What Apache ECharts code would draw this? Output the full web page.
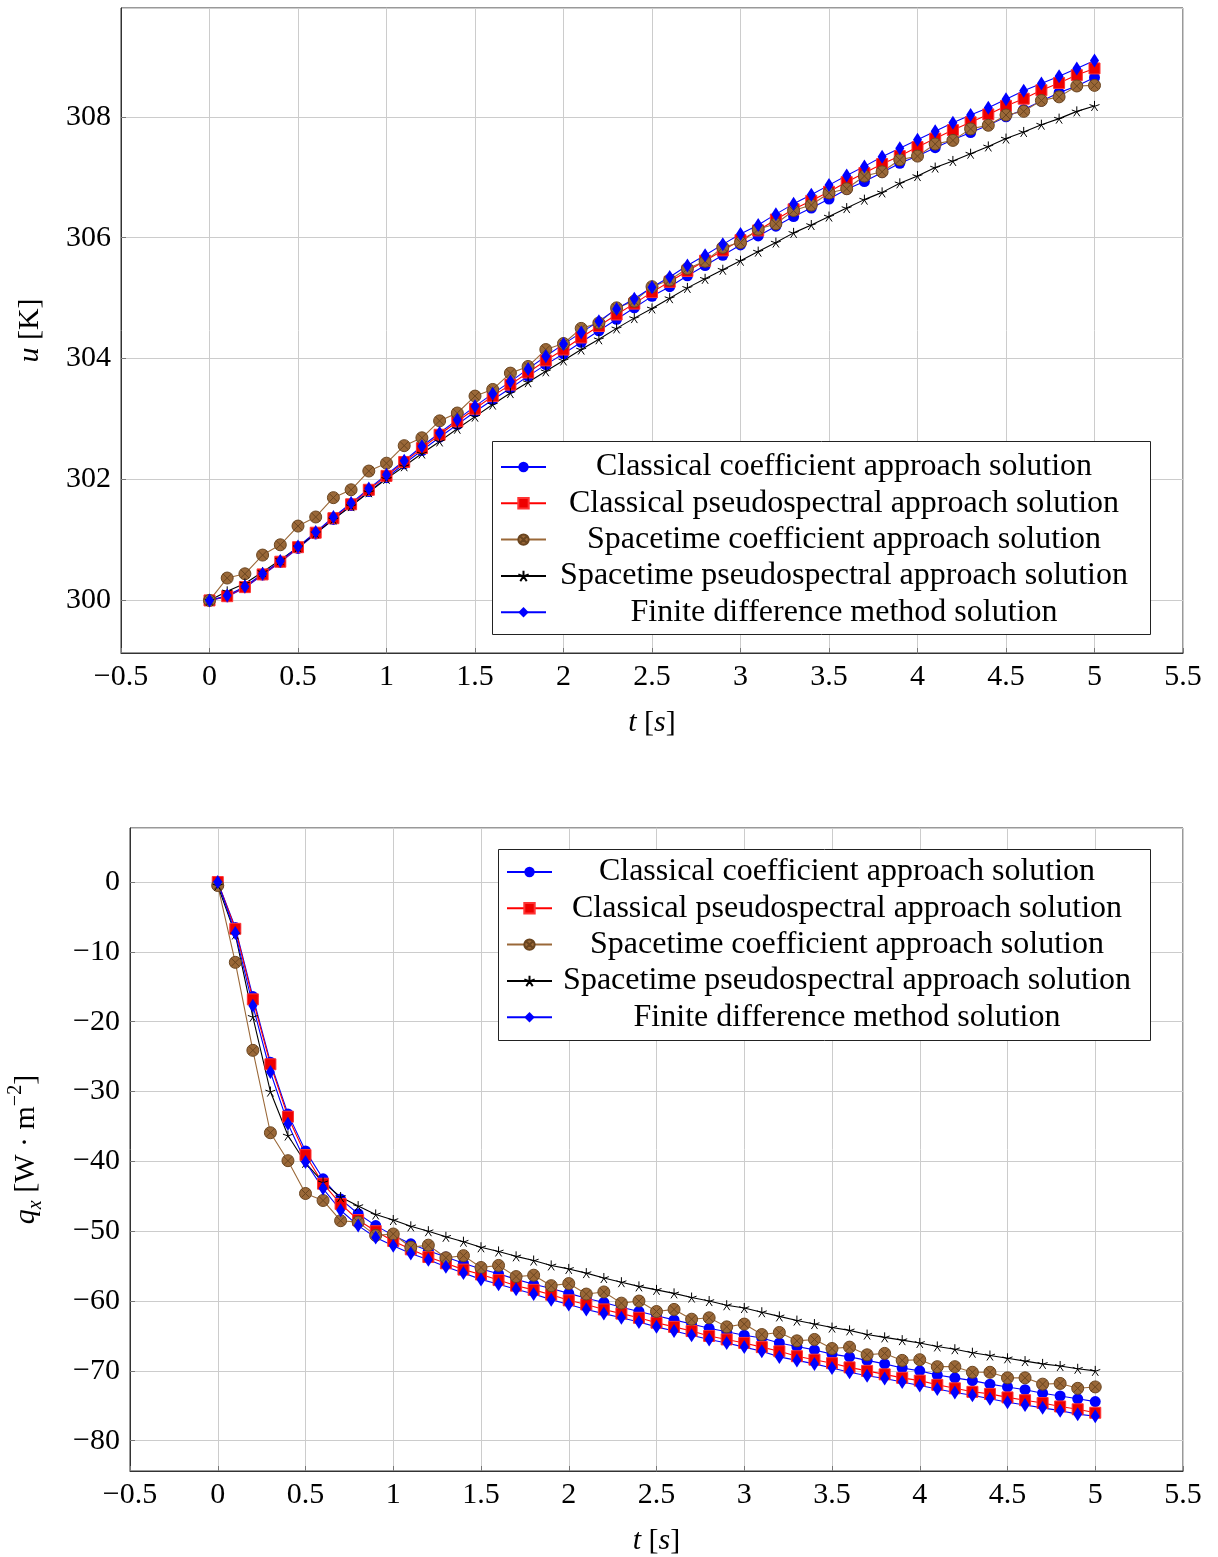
<!DOCTYPE html>
<html>
<head>
<meta charset="utf-8">
<script src="https://cdn.jsdelivr.net/npm/echarts@6/dist/echarts.min.js"></script>
<style>
html,body{margin:0;padding:0;background:#fff;}
#c1{position:absolute;left:0;top:0;width:1218px;height:780px;}
#c2{position:absolute;left:0;top:780px;width:1218px;height:777px;}
</style>
</head>
<body>
<div id="c1"></div>
<div id="c2"></div>
<script>
// time samples
const tValues = [0,0.1,0.2,0.3,0.4,0.5,0.6,0.7,0.8,0.9,1.0,1.1,1.2,1.3,1.4,1.5,1.6,1.7,1.8,1.9,2.0,2.1,2.2,2.3,2.4,2.5,2.6,2.7,2.8,2.9,3.0,3.1,3.2,3.3,3.4,3.5,3.6,3.7,3.8,3.9,4.0,4.1,4.2,4.3,4.4,4.5,4.6,4.7,4.8,4.9,5.0];

const seriesNames = [
  'Classical coefficient approach solution',
  'Classical pseudospectral approach solution',
  'Spacetime coefficient approach solution',
  'Spacetime pseudospectral approach solution',
  'Finite difference method solution'
];

// Top chart: temperature u [K]
const uClassicalCoef = [300,300.06,300.21,300.42,300.63,300.86,301.10,301.34,301.57,301.80,302.03,302.26,302.48,302.70,302.91,303.12,303.32,303.51,303.71,303.90,304.08,304.27,304.46,304.65,304.84,305.03,305.19,305.37,305.54,305.71,305.88,306.03,306.19,306.35,306.49,306.64,306.80,306.93,307.08,307.23,307.35,307.49,307.62,307.74,307.86,308.00,308.12,308.26,308.40,308.51,308.65];
const uClassicalPseudo = [300,300.07,300.22,300.43,300.64,300.88,301.12,301.36,301.59,301.83,302.06,302.29,302.52,302.74,302.96,303.17,303.38,303.57,303.77,303.97,304.15,304.35,304.54,304.73,304.91,305.10,305.27,305.45,305.62,305.79,305.96,306.12,306.30,306.47,306.61,306.76,306.92,307.07,307.22,307.35,307.50,307.64,307.78,307.91,308.04,308.18,308.30,308.44,308.56,308.69,308.80];
const uSpacetimeCoef = [300,300.37,300.44,300.75,300.92,301.23,301.38,301.70,301.83,302.14,302.27,302.56,302.69,302.97,303.10,303.38,303.49,303.76,303.87,304.15,304.25,304.50,304.59,304.84,304.95,305.19,305.30,305.49,305.61,305.84,305.92,306.14,306.23,306.45,306.54,306.74,306.81,307.02,307.09,307.29,307.35,307.55,307.61,307.80,307.86,308.03,308.09,308.27,308.33,308.51,308.52];
const uSpacetimePseudo = [300,300.15,300.28,300.47,300.67,300.88,301.11,301.34,301.56,301.79,302.01,302.22,302.43,302.63,302.84,303.04,303.24,303.43,303.61,303.79,303.97,304.15,304.32,304.50,304.67,304.83,305.00,305.17,305.32,305.47,305.62,305.77,305.92,306.08,306.21,306.35,306.49,306.63,306.75,306.90,307.02,307.16,307.27,307.39,307.51,307.64,307.75,307.87,307.97,308.09,308.18];
const uFiniteDiff = [300,300.08,300.23,300.44,300.65,300.89,301.13,301.38,301.61,301.85,302.08,302.31,302.55,302.77,302.99,303.21,303.42,303.62,303.83,304.04,304.24,304.43,304.62,304.82,304.99,305.18,305.35,305.54,305.71,305.89,306.06,306.21,306.39,306.56,306.71,306.87,307.03,307.18,307.34,307.48,307.62,307.76,307.90,308.03,308.15,308.29,308.43,308.55,308.67,308.80,308.93];

// Bottom chart: heat flux q_x [W m^-2]
const qClassicalCoef = [0,-6.5,-16.4,-25.8,-33.2,-38.5,-42.5,-45.4,-47.5,-49.2,-50.6,-51.8,-52.8,-53.7,-54.6,-55.4,-56.1,-56.9,-57.6,-58.2,-58.9,-59.6,-60.2,-60.9,-61.5,-62.1,-62.7,-63.3,-63.9,-64.4,-64.9,-65.3,-66.0,-66.5,-67.0,-67.6,-68.0,-68.5,-69.0,-69.6,-70.0,-70.6,-71.0,-71.4,-71.9,-72.3,-72.7,-73.2,-73.6,-74.0,-74.4];
const qClassicalPseudo = [0,-6.7,-16.8,-26.1,-33.6,-39.1,-43.2,-46.1,-48.4,-50.0,-51.4,-52.6,-53.7,-54.6,-55.5,-56.2,-57.0,-57.8,-58.4,-59.1,-59.9,-60.5,-61.2,-61.8,-62.4,-63.1,-63.7,-64.3,-65.0,-65.5,-66.0,-66.6,-67.2,-67.9,-68.4,-68.9,-69.5,-70.0,-70.5,-71.0,-71.4,-72.0,-72.5,-73.0,-73.3,-73.8,-74.2,-74.6,-75.1,-75.5,-76.0];
const qSpacetimeCoef = [-0.5,-11.5,-24.1,-35.9,-39.9,-44.6,-45.6,-48.5,-48.7,-50.6,-50.4,-52.3,-52.0,-53.8,-53.5,-55.2,-54.9,-56.5,-56.3,-57.8,-57.5,-59.0,-58.7,-60.3,-60.0,-61.5,-61.2,-62.6,-62.4,-63.7,-63.3,-64.8,-64.5,-65.7,-65.5,-66.8,-66.6,-67.7,-67.5,-68.5,-68.4,-69.4,-69.4,-70.2,-70.2,-71.0,-71.0,-71.9,-71.8,-72.5,-72.3];
const qSpacetimePseudo = [-0.5,-7.5,-19.3,-30.0,-36.3,-40.2,-43.0,-45.1,-46.4,-47.6,-48.4,-49.3,-50.0,-50.8,-51.5,-52.3,-52.9,-53.6,-54.2,-54.9,-55.4,-56.0,-56.7,-57.3,-57.9,-58.4,-58.9,-59.5,-60.0,-60.6,-61.0,-61.6,-62.2,-62.8,-63.3,-63.8,-64.2,-64.8,-65.2,-65.6,-66.0,-66.5,-66.9,-67.4,-67.8,-68.2,-68.6,-69.0,-69.3,-69.7,-70.0];
const qFiniteDiff = [0,-7.3,-17.7,-27.2,-34.6,-40.1,-43.9,-47.0,-49.2,-50.9,-52.1,-53.2,-54.1,-55.1,-56.0,-56.9,-57.6,-58.3,-59.0,-59.8,-60.5,-61.2,-61.8,-62.4,-63.0,-63.7,-64.3,-64.9,-65.5,-66.0,-66.6,-67.2,-68.0,-68.5,-69.0,-69.6,-70.2,-70.7,-71.1,-71.6,-72.1,-72.6,-73.1,-73.5,-74.0,-74.5,-74.9,-75.3,-75.7,-76.2,-76.5];

const FONT = '"Liberation Serif", "Times New Roman", serif';
const BROWN = '#9a6838';
const STAR = 'path://M50 0 L50 52 M97.5 34.5 L50 52 M79.4 95.5 L50 52 M20.6 95.5 L50 52 M2.5 34.5 L50 52';
const OTIMES = 'path://M0 10 A10 10 0 1 1 20 10 A10 10 0 1 1 0 10 Z M2.93 2.93 L17.07 17.07 M17.07 2.93 L2.93 17.07';

const styles = [
  {color:'#0000ff', symbol:'circle', size:11, border:'#0000ff', bw:0},
  {color:'#ee0000', symbol:'rect', size:11, border:'#ff3333', bw:1},
  {color:BROWN, symbol:OTIMES, size:12, border:'#6a4520', bw:1},
  {color:'#000000', symbol:STAR, size:10, border:'#000000', bw:1},
  {color:'#0000ff', symbol:'diamond', size:[9,14], border:'#0000ff', bw:0}
];

function pairs(arr){ return tValues.map((t,i)=>[t, arr[i]]); }
function minus(v){ return String(v).replace('-', '\u2212'); }

function makeSeries(arrays){
  return arrays.map((arr, k) => {
    const s = styles[k];
    return {
      name: seriesNames[k], type:'line', data: pairs(arr),
      symbol: s.symbol, symbolSize: s.size, showSymbol:true,
      lineStyle:{color: k===1 ? '#ff0000' : s.color, width:1.1},
      itemStyle:{color: s.color, borderColor: s.border, borderWidth: s.bw},
      emphasis:{disabled:true}, animation:false
    };
  });
}

function baseOption(grid, yMin, yMax, splitNum, yName, yNameGap, box, legendLeft, legendTop, legendTextWidth, arrays){
  return {
    animation:false,
    grid: Object.assign({show:true, borderColor:'#333', borderWidth:1, backgroundColor:'transparent', containLabel:false, outerBoundsMode:'none'}, grid),
    graphic: [{
      type:'rect', z: 3, silent:true,
      shape:{x: box[0] + 0.5, y: box[1] + 0.5, width: box[2], height: box[3]},
      style:{fill:'#fff', stroke:'#222', lineWidth:1}
    }],
    legend: {
      left: legendLeft, top: legendTop, orient:'vertical', z: 5,
      backgroundColor:'transparent', borderWidth:0,
      padding:[7,8,6,8], itemGap:4.3, itemWidth:45, itemHeight:13,
      selectedMode:false,
      formatter: n => '{t|' + n + '}',
      textStyle:{ rich:{ t:{ width: legendTextWidth, align:'center', fontFamily: FONT, fontSize:32, color:'#000'} } },
      data: seriesNames
    },
    xAxis: {
      type:'value', min:-0.5, max:5.5, interval:0.5,
      name:'{i|t} [{i|s}]', nameLocation:'middle', nameGap:55,
      nameTextStyle:{fontFamily:FONT, fontSize:30, color:'#000', rich:{i:{fontStyle:'italic', fontFamily:FONT, fontSize:30}}},
      axisLine:{show:true, onZero:false, lineStyle:{color:'#333'}},
      axisTick:{show:true, inside:true, length:5, lineStyle:{color:'#777'}},
      axisLabel:{fontFamily:FONT, fontSize:30, color:'#000', margin:9, formatter: v => minus(v)},
      splitLine:{show:true, lineStyle:{color:'#cccccc', width:1}}
    },
    yAxis: {
      type:'value', min:yMin, max:yMax, splitNumber:splitNum,
      name: yName, nameLocation:'middle', nameGap:yNameGap, nameRotate:90,
      nameTextStyle:{fontFamily:FONT, fontSize:30, color:'#000',
        rich:{ i:{fontStyle:'italic', fontFamily:FONT, fontSize:30},
               sub:{fontStyle:'italic', fontFamily:FONT, fontSize:20, verticalAlign:'bottom', lineHeight:40},
               sup:{fontFamily:FONT, fontSize:20, verticalAlign:'top', lineHeight:40} }},
      axisLine:{show:true, onZero:false, lineStyle:{color:'#333'}},
      axisTick:{show:true, inside:true, length:5, lineStyle:{color:'#777'}},
      axisLabel:{fontFamily:FONT, fontSize:30, color:'#000', margin:10, showMinLabel:false, showMaxLabel:false, formatter: v => minus(v)},
      splitLine:{show:true, lineStyle:{color:'#cccccc', width:1}}
    },
    series: makeSeries(arrays)
  };
}

const c1 = echarts.init(document.getElementById('c1'), null, {renderer:'canvas'});
c1.setOption(baseOption({left:121, right:35, top:8, height:645}, 299.13, 309.8, 5,
  '{i|u} [K]', 76, [492, 441, 658, 193], 492, 444, 586,
  [uClassicalCoef, uClassicalPseudo, uSpacetimeCoef, uSpacetimePseudo, uFiniteDiff]));

const c2 = echarts.init(document.getElementById('c2'), null, {renderer:'canvas'});
c2.setOption(baseOption({left:130, right:35, top:48, height:643}, -84.34, 7.74, 9,
  '{i|q}{sub|x} [W \u00b7 m{sup|\u22122}]', 84, [498, 69, 652, 191], 498, 69, 580,
  [qClassicalCoef, qClassicalPseudo, qSpacetimeCoef, qSpacetimePseudo, qFiniteDiff]));
</script>
</body>
</html>
